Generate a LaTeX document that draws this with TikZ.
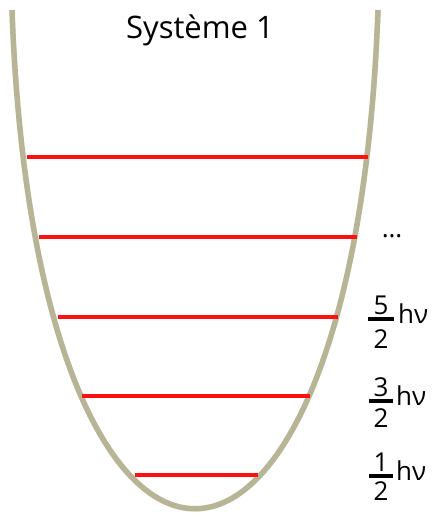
\documentclass[tikz,border=0pt]{standalone}
\usepackage{fontspec}
\setmainfont{Open Sans}
\definecolor{bowl}{RGB}{184,181,150}
\definecolor{lvl}{RGB}{255,16,16}
\tikzset{
  bowlline/.style={draw=bowl,line width=5.5pt,line cap=butt,line join=round},
  bowlshadow/.style={draw=black!40,opacity=0.22,line width=5.5pt},
  level/.style={draw=lvl,line width=4pt},
  fracbar/.style={draw=black,line width=4pt},
  lbl/.style={inner sep=0pt,anchor=base,font=\fontsize{26}{26}\selectfont},
  titlefont/.style={inner sep=0pt,anchor=base,font=\fontsize{31}{31}\selectfont}
}
\begin{document}
\begin{tikzpicture}[x=1pt,y=-1pt]
\useasboundingbox (0,0) rectangle (433,515);
\coordinate (tl) at (12,10);
\coordinate (tr) at (378,10);
\coordinate (c1) at (36,675);
\coordinate (c2) at (354,675);
% shadow
\draw[bowlshadow,shift={(2,1.5)}] (tl) .. controls (c1) and (c2) .. (tr);
% bowl
\draw[bowlline] (tl) .. controls (c1) and (c2) .. (tr);
% levels
\draw[level] (27,157) -- (368,157);
\draw[level] (39,237) -- (357,237);
\draw[level] (58,317) -- (338,317);
\draw[level] (82,396) -- (310,396);
\draw[level] (135,475) -- (258,475);
% title
\node[titlefont] (title) at (200,38) {Système 1};
% labels
\node[lbl] (dots) at (392,237) {…};
\node[lbl] (n5) at (381,314) {5};
\draw[fracbar] (368,319) -- (394,319);
\node[lbl] (d5) at (381,348) {2};
\node[lbl,anchor=base west] (h5) at (398,323) {hν};
\node[lbl] (n3) at (381,396) {3};
\draw[fracbar] (369,400.5) -- (393,400.5);
\node[lbl] (d3) at (381,427) {2};
\node[lbl,anchor=base west] (h3) at (396,405) {hν};
\node[lbl] (n1) at (381,471) {1};
\draw[fracbar] (369,475.5) -- (393,475.5);
\node[lbl] (d1) at (381,500) {2};
\node[lbl,anchor=base west] (h1) at (396,480) {hν};
\end{tikzpicture}
\end{document}
